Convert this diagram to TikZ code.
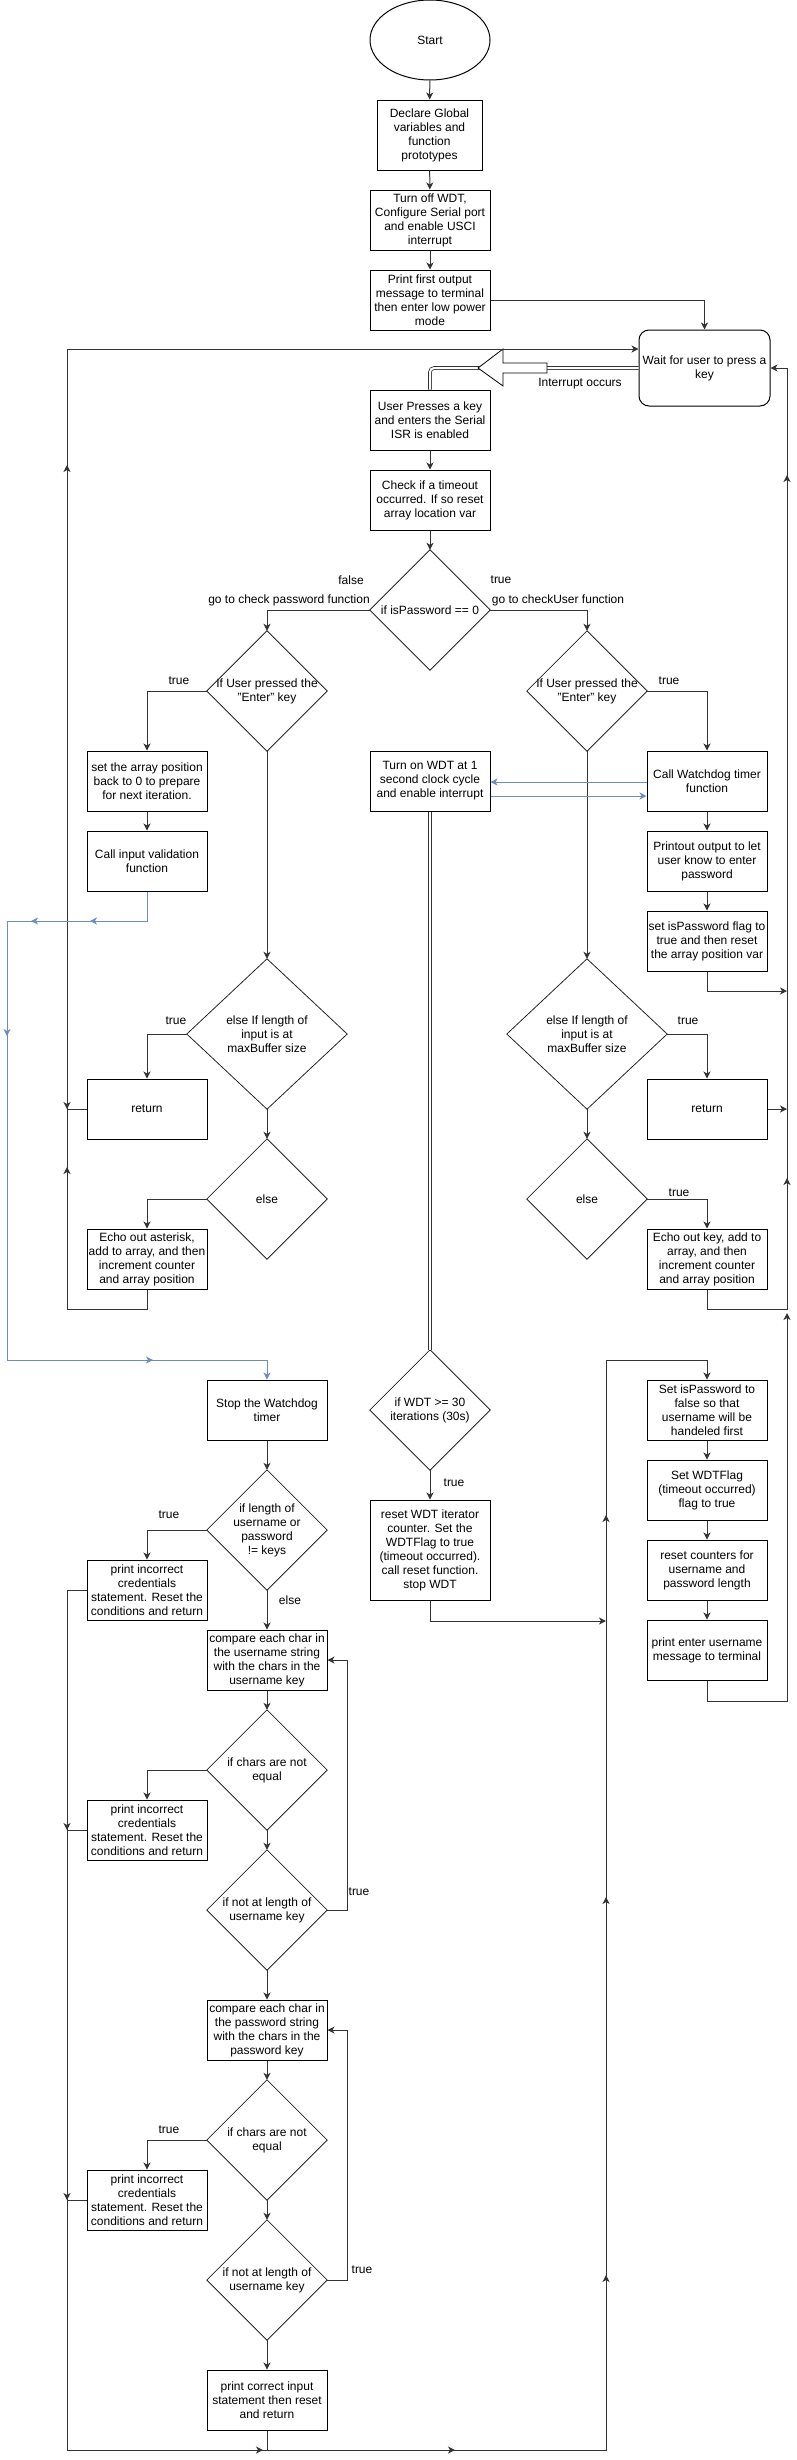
\documentclass[tikz,border=0pt]{standalone}
\usepackage{fontspec}
\setmainfont{Liberation Sans}
\usetikzlibrary{arrows.meta,shapes.geometric}
\definecolor{edge}{HTML}{333333}
\definecolor{blueline}{HTML}{6C8EBF}
\tikzset{
 txt/.style={font=\fontsize{12}{14}\selectfont},
 box/.style={txt, draw=black, line width=1pt, rectangle, minimum width=120pt, minimum height=60pt, inner sep=0pt, align=center},
 dia/.style={txt, rectangle, minimum width=120pt, minimum height=120pt, inner sep=0pt, align=center},
 con/.style={draw=edge, line width=1pt},
 arr/.style={con, -{Stealth[length=7pt,width=7pt,inset=2pt]}},
 bcon/.style={draw=blueline, line width=1pt},
 barr/.style={bcon, -{Stealth[length=7pt,width=7pt,inset=2pt]}},
 lbl/.style={txt, inner sep=0pt},
 dbl/.style={draw=edge, line width=0.8pt, double=white, double distance=2pt},
}
\begin{document}
\begin{tikzpicture}[x=1pt,y=-1pt]
\fill[white] (0,0) rectangle (797,2460);
\useasboundingbox (0,0) rectangle (797,2460);

% ---------- nodes ----------
\node[txt, draw=black, line width=1pt, ellipse, minimum width=120pt, minimum height=80pt, inner sep=0pt] (start) at (430,40) {Start};
\node[box, minimum width=105pt, minimum height=70pt] (declare) at (429.5,135) {Declare Global\\variables and\\function\\prototypes};
\node[box] (turnoff) at (430,220) {Turn off WDT,\\Configure Serial port\\and enable USCI\\interrupt};
\node[box] (printfirst) at (430,300) {Print first output\\message to terminal\\then enter low power\\mode};
\node[box, minimum width=131pt, minimum height=76pt, rounded corners=10pt] (wait) at (704.5,368) {Wait for user to press a\\key};
\node[box] (userpress) at (430,420) {User Presses a key\\and enters the Serial\\ISR is enabled};
\node[box] (check) at (430,500) {Check if a timeout\\occurred. If so reset\\array location var};
\node[dia] (isPass) at (430,610) {if isPassword == 0};
\node[dia] (L1) at (267,691) {If User pressed the\\"Enter" key};
\node[dia] (R1) at (587,691) {If User pressed the\\"Enter" key};
\node[box] (setarr) at (147,781) {set the array position\\back to 0 to prepare\\for next iteration.};
\node[box] (turnon) at (430,781) {Turn on WDT at 1\\second clock cycle\\and enable interrupt};
\node[box] (callwdt) at (707,781) {Call Watchdog timer\\function};
\node[box] (callinput) at (147,861) {Call input validation\\function};
\node[box] (printout) at (707,861) {Printout output to let\\user know to enter\\password};
\node[box] (setisp) at (707,941) {set isPassword flag to\\true and then reset\\the array position var};
\node[dia, minimum width=160pt, minimum height=150pt] (L2) at (267,1034) {else If length of\\input is at\\maxBuffer size};
\node[dia, minimum width=160pt, minimum height=150pt] (R2) at (587,1034) {else If length of\\input is at\\maxBuffer size};
\node[box] (retL) at (147,1109) {return};
\node[box] (retR) at (707,1109) {return};
\node[dia] (L3) at (267,1199) {else};
\node[dia] (R3) at (587,1199) {else};
\node[box] (echoL) at (147,1259) {Echo out asterisk,\\add to array, and then\\increment counter\\and array position};
\node[box] (echoR) at (707,1259) {Echo out key, add to\\array, and then\\increment counter\\and array position};
\node[dia] (wdtdia) at (430,1410) {if WDT >= 30\\iterations (30s)};
\node[box] (stopwdt) at (267,1410) {Stop the Watchdog\\timer};
\node[box] (setisp2) at (707,1410) {Set isPassword to\\false so that\\username will be\\handeled first};
\node[box, minimum height=100pt] (resetwdt) at (430,1550) {reset WDT iterator\\counter. Set the\\WDTFlag to true\\(timeout occurred).\\call reset function.\\stop WDT};
\node[box] (setflag) at (707,1490) {Set WDTFlag\\(timeout occurred)\\flag to true};
\node[dia] (D1) at (267,1530) {if length of\\username or\\password\\!= keys};
\node[box] (inc1) at (147,1590) {print incorrect\\credentials\\statement. Reset the\\conditions and return};
\node[box] (resetcnt) at (707,1570) {reset counters for\\username and\\password length};
\node[box] (printenter) at (707,1650) {print enter username\\message to terminal};
\node[box] (cmp1) at (267,1660) {compare each char in\\the username string\\with the chars in the\\username key};
\node[dia] (D2) at (267,1770) {if chars are not\\equal};
\node[box] (inc2) at (147,1830) {print incorrect\\credentials\\statement. Reset the\\conditions and return};
\node[dia] (D3) at (267,1910) {if not at length of\\username key};
\node[box] (cmp2) at (267,2030) {compare each char in\\the password string\\with the chars in the\\password key};
\node[dia] (D4) at (267,2140) {if chars are not\\equal};
\node[box] (inc3) at (147,2200) {print incorrect\\credentials\\statement. Reset the\\conditions and return};
\node[dia] (D5) at (267,2280) {if not at length of\\username key};
\node[box] (printcorrect) at (267,2400) {print correct input\\statement then reset\\and return};

\foreach \n in {isPass,L1,R1,L2,R2,L3,R3,wdtdia,D1,D2,D3,D4,D5}
  \draw[black!85, line width=0.8pt] (\n.north) -- (\n.east) -- (\n.south) -- (\n.west) -- cycle;

% ---------- bus coordinates ----------
\coordinate (bl1) at (67,1309);
\coordinate (bl2) at (67,349);
\coordinate (bb1) at (67,2450);
\coordinate (bb2) at (606,2450);
\coordinate (bt) at (606,1360);
\coordinate (rj) at (606,1621);
\coordinate (br1) at (787,1309);
\coordinate (br2) at (787,368);
\coordinate (br3) at (787,1701);
\coordinate (q1) at (7,921);
\coordinate (q2) at (7,1360);

% ---------- main column ----------
\draw[arr] (start) -- (declare);
\draw[arr] (declare) -- (turnoff);
\draw[arr] (turnoff) -- (printfirst);
\draw[arr] (printfirst.east) -| (wait.north);
\draw[arr] (userpress) -- (check);
\draw[arr] (check) -- (isPass);

% interrupt (double link + flex arrow)
\draw[dbl, rounded corners=4pt] (wait.west) -| (userpress.north);
\draw[draw=black, line width=0.8pt, fill=white] (547,363) -- (503,363) -- (503,349) -- (478,368) -- (503,386) -- (503,373) -- (547,373) -- cycle;
\node[lbl] (intlbl) at (580,384) {Interrupt occurs};

% isPassword branches
\draw[arr] (isPass.west) -| (L1.north);
\draw[arr] (isPass.east) -| (R1.north);
\node[lbl] at (351,580) {false};
\node[lbl] at (289,600) {go to check password function};
\node[lbl] at (501,580) {true};
\node[lbl] at (558,600) {go to checkUser function};

% left (password) branch
\draw[arr] (L1.west) -| (setarr.north);
\node[lbl] at (179,681) {true};
\draw[arr] (setarr) -- (callinput);
\draw[arr] (L1.south) -- (L2.north);
\draw[arr] (L2.west) -| (retL.north);
\node[lbl] at (176,1021) {true};
\draw[arr] (L2.south) -- (L3.north);
\draw[arr] (L3.west) -| (echoL.north);

% left loop bus back to wait
\draw[arr] (echoL.south) |- (bl1) -- (bl2) -- (wait.west |- bl2);
\draw[arr] (67,1177) -- (67,1167);
\draw[arr] (67,475) -- (67,465);
\draw[con] (retL.west) -- (retL.west -| bl1);
\draw[arr] (67,1099) -- (67,1109);

% blue path to stop watchdog
\draw[barr] (callinput.south) |- (q1) -- (q2) -| (stopwdt.north);
\draw[barr] (100,921) -- (90,921);
\draw[barr] (41,921) -- (31,921);
\draw[barr] (7,1026) -- (7,1036);
\draw[barr] (143,1360) -- (153,1360);

% right (user) branch
\draw[arr] (R1.east) -| (callwdt.north);
\node[lbl] at (669,681) {true};
\draw[arr] (callwdt) -- (printout);
\draw[arr] (printout) -- (setisp);
\draw[arr] (setisp.south) |- (787,991);
\draw[arr] (R1.south) -- (R2.north);
\draw[arr] (R2.east) -| (retR.north);
\node[lbl] at (688,1021) {true};
\draw[arr] (retR.east) -- (retR.east -| br1);
\draw[arr] (R2.south) -- (R3.north);
\draw[arr] (R3.east) -| (echoR.north);
\node[lbl] at (679,1193) {true};

% right loop bus back to wait
\draw[arr] (echoR.south) |- (br1) -- (br2) -- (wait.east);
\draw[arr] (787,1188) -- (787,1178);
\draw[arr] (787,485) -- (787,475);
\draw[arr] (printenter.south) |- (br3) -- (787,1313);

% blue WDT arrows
\draw[barr] ([yshift=-1pt]callwdt.west) -- ([yshift=-1pt]turnon.east);
\draw[barr] ([yshift=-15pt]turnon.east) -- ([yshift=-15pt]callwdt.west);

% WDT path
\draw[dbl] (turnon.south) -- (wdtdia.north);
\draw[arr] (wdtdia.south) -- (resetwdt.north);
\node[lbl] at (454,1483) {true};
\draw[arr] (resetwdt.south) |- (rj);

% timeout reset chain
\draw[arr] (setisp2) -- (setflag);
\draw[arr] (setflag) -- (resetcnt);
\draw[arr] (resetcnt) -- (printenter);

% credential checks
\draw[arr] (stopwdt) -- (D1);
\draw[arr] (D1.west) -| (inc1.north);
\node[lbl] at (169,1515) {true};
\draw[arr] (D1.south) -- (cmp1.north);
\node[lbl] at (290,1600) {else};
\draw[arr] (cmp1) -- (D2);
\draw[arr] (D2.west) -| (inc2.north);
\draw[arr] (D2.south) -- (D3.north);
\draw[arr] (D3.east) -- ++(20,0) |- (cmp1.east);
\node[lbl] at (359,1892) {true};
\draw[arr] (D3.south) -- (cmp2.north);
\draw[arr] (cmp2) -- (D4);
\draw[arr] (D4.west) -| (inc3.north);
\node[lbl] at (169,2130) {true};
\draw[arr] (D4.south) -- (D5.north);
\draw[arr] (D5.east) -- ++(20,0) |- (cmp2.east);
\node[lbl] at (362,2270) {true};
\draw[arr] (D5.south) -- (printcorrect.north);

% bottom bus to set isPassword
\draw[arr] (inc1.west) -- (inc1.west -| bb1) -- (bb1) -- (bb2) -- (bt) -| (setisp2.north);
\draw[con] (inc2.west) -- (inc2.west -| bb1);
\draw[arr] (67,1820) -- (67,1830);
\draw[con] (inc3.west) -- (inc3.west -| bb1);
\draw[arr] (67,2190) -- (67,2200);
\draw[con] (printcorrect.south) -- (printcorrect.south |- bb1);
\draw[arr] (253,2450) -- (263,2450);
\draw[arr] (445,2450) -- (455,2450);
\draw[arr] (606,2285) -- (606,2275);
\draw[arr] (606,1907) -- (606,1897);
\draw[arr] (606,1525) -- (606,1515);
\end{tikzpicture}
\end{document}
